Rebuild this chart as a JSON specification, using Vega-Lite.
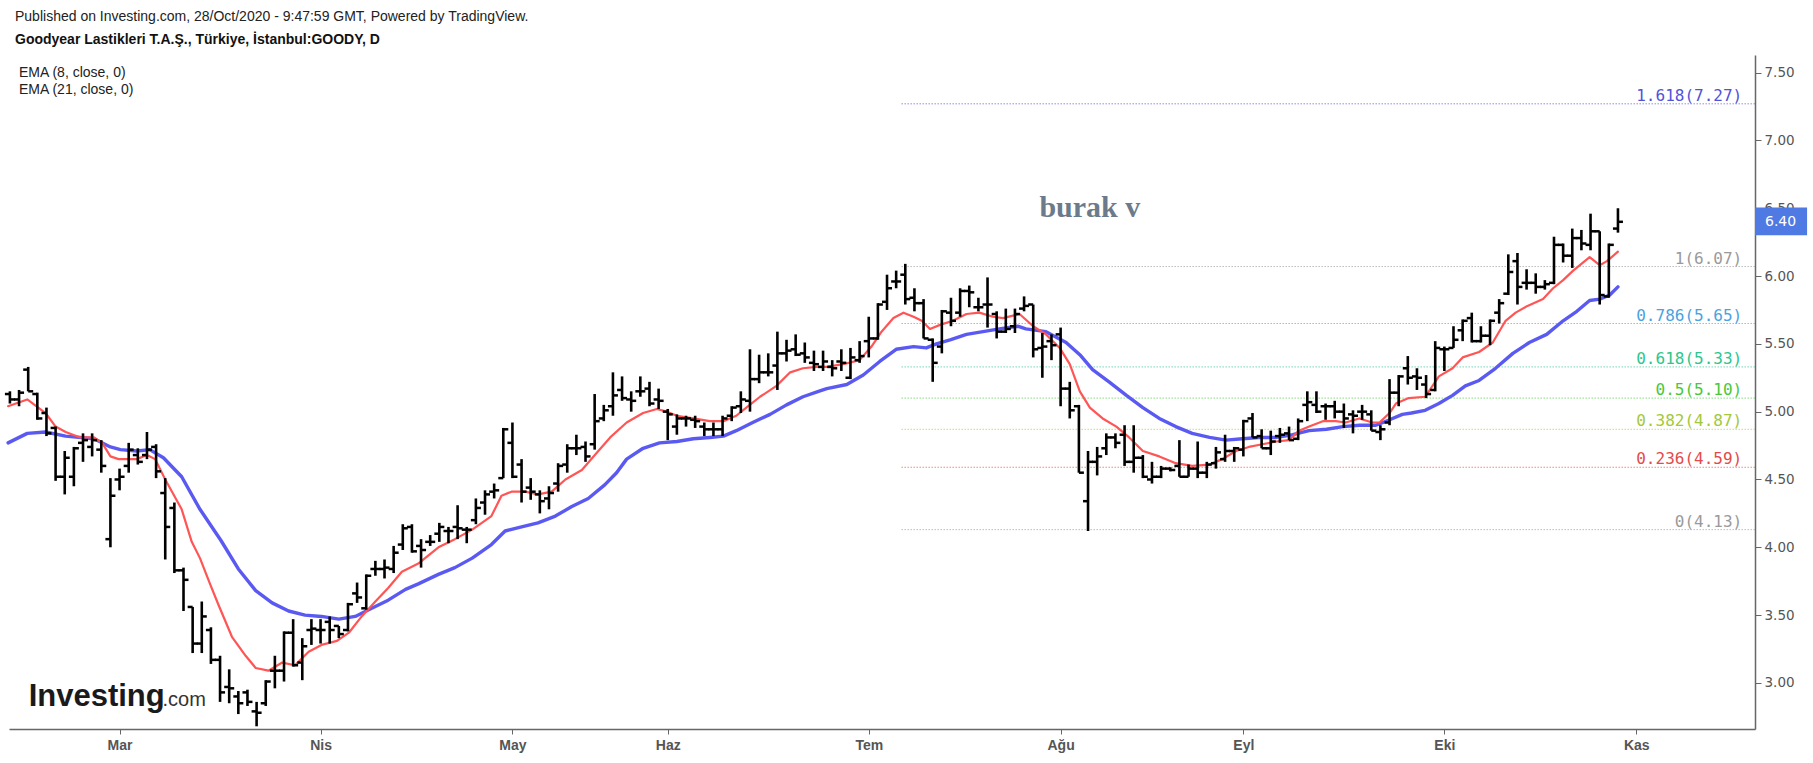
{
  "$schema": "https://vega.github.io/schema/vega-lite/v6.json",
  "width": 1746,
  "height": 674,
  "autosize": {"type": "none"},
  "padding": {"left": 9, "top": 55, "right": 58, "bottom": 34},
  "background": "#ffffff",
  "config": {
    "view": {"stroke": null},
    "font": "Liberation Sans"
  },
  "title": {
    "text": "Published on Investing.com, 28/Oct/2020 - 9:47:59 GMT, Powered by TradingView.",
    "subtitle": "Goodyear Lastikleri T.A.Ş., Türkiye, İstanbul:GOODY, D",
    "anchor": "start",
    "frame": "group",
    "dx": 6,
    "offset": 8,
    "font": "Liberation Sans",
    "fontSize": 14,
    "fontWeight": "normal",
    "color": "#222222",
    "subtitleFont": "Liberation Sans",
    "subtitleFontSize": 14,
    "subtitleFontWeight": "bold",
    "subtitleColor": "#111111",
    "subtitlePadding": 9
  },
  "datasets": {
    "bars": [
      {"i": -12, "o": 5.13, "h": 5.15, "l": 5.06, "c": 5.09},
      {"i": -11, "o": 5.09, "h": 5.16, "l": 5.04, "c": 5.14},
      {"i": -10, "o": 5.31, "h": 5.33, "l": 5.15, "c": 5.15},
      {"i": -9, "o": 5.13, "h": 5.14, "l": 4.94, "c": 4.95},
      {"i": -8, "o": 4.99, "h": 5.03, "l": 4.82, "c": 4.84},
      {"i": -7, "o": 4.88, "h": 4.89, "l": 4.49, "c": 4.52},
      {"i": -6, "o": 4.52, "h": 4.71, "l": 4.39, "c": 4.66},
      {"i": -5, "o": 4.52, "h": 4.74, "l": 4.45, "c": 4.73},
      {"i": -4, "o": 4.77, "h": 4.84, "l": 4.63, "c": 4.79},
      {"i": -3, "o": 4.74, "h": 4.84, "l": 4.67, "c": 4.79},
      {"i": -2, "o": 4.72, "h": 4.79, "l": 4.55, "c": 4.60},
      {"i": -1, "o": 4.06, "h": 4.51, "l": 4.00, "c": 4.38},
      {"i": 0, "o": 4.50, "h": 4.58, "l": 4.42, "c": 4.52},
      {"i": 1, "o": 4.60, "h": 4.77, "l": 4.55, "c": 4.72},
      {"i": 2, "o": 4.68, "h": 4.73, "l": 4.61, "c": 4.63},
      {"i": 3, "o": 4.68, "h": 4.85, "l": 4.65, "c": 4.72},
      {"i": 4, "o": 4.74, "h": 4.76, "l": 4.51, "c": 4.56},
      {"i": 5, "o": 4.40, "h": 4.51, "l": 3.91, "c": 4.15},
      {"i": 6, "o": 4.29, "h": 4.33, "l": 3.81, "c": 3.83},
      {"i": 7, "o": 3.83, "h": 3.85, "l": 3.53, "c": 3.76},
      {"i": 8, "o": 3.56, "h": 3.56, "l": 3.22, "c": 3.29},
      {"i": 9, "o": 3.29, "h": 3.60, "l": 3.22, "c": 3.49},
      {"i": 10, "o": 3.39, "h": 3.41, "l": 3.14, "c": 3.17},
      {"i": 11, "o": 3.17, "h": 3.20, "l": 2.86, "c": 2.93},
      {"i": 12, "o": 2.97, "h": 3.10, "l": 2.85, "c": 2.96},
      {"i": 13, "o": 2.90, "h": 2.94, "l": 2.77, "c": 2.85},
      {"i": 14, "o": 2.93, "h": 2.95, "l": 2.83, "c": 2.86},
      {"i": 15, "o": 2.79, "h": 2.86, "l": 2.68, "c": 2.78},
      {"i": 16, "o": 2.85, "h": 3.02, "l": 2.83, "c": 3.01},
      {"i": 17, "o": 3.09, "h": 3.20, "l": 2.96, "c": 3.09},
      {"i": 18, "o": 3.09, "h": 3.38, "l": 3.01, "c": 3.37},
      {"i": 19, "o": 3.37, "h": 3.47, "l": 3.12, "c": 3.13},
      {"i": 20, "o": 3.15, "h": 3.33, "l": 3.02, "c": 3.27},
      {"i": 21, "o": 3.39, "h": 3.47, "l": 3.28, "c": 3.40},
      {"i": 22, "o": 3.39, "h": 3.47, "l": 3.29, "c": 3.39},
      {"i": 23, "o": 3.45, "h": 3.49, "l": 3.29, "c": 3.39},
      {"i": 24, "o": 3.42, "h": 3.42, "l": 3.33, "c": 3.36},
      {"i": 25, "o": 3.39, "h": 3.59, "l": 3.38, "c": 3.58},
      {"i": 26, "o": 3.66, "h": 3.74, "l": 3.59, "c": 3.63},
      {"i": 27, "o": 3.55, "h": 3.80, "l": 3.54, "c": 3.79},
      {"i": 28, "o": 3.84, "h": 3.90, "l": 3.79, "c": 3.84},
      {"i": 29, "o": 3.84, "h": 3.91, "l": 3.77, "c": 3.85},
      {"i": 30, "o": 3.84, "h": 4.01, "l": 3.81, "c": 3.96},
      {"i": 31, "o": 4.02, "h": 4.17, "l": 3.98, "c": 4.14},
      {"i": 32, "o": 4.15, "h": 4.17, "l": 3.96, "c": 3.97},
      {"i": 33, "o": 4.01, "h": 4.06, "l": 3.85, "c": 3.98},
      {"i": 34, "o": 4.04, "h": 4.09, "l": 4.01, "c": 4.04},
      {"i": 35, "o": 4.10, "h": 4.18, "l": 4.04, "c": 4.15},
      {"i": 36, "o": 4.12, "h": 4.15, "l": 4.03, "c": 4.12},
      {"i": 37, "o": 4.15, "h": 4.31, "l": 4.06, "c": 4.14},
      {"i": 38, "o": 4.13, "h": 4.15, "l": 4.03, "c": 4.13},
      {"i": 39, "o": 4.20, "h": 4.36, "l": 4.17, "c": 4.29},
      {"i": 40, "o": 4.33, "h": 4.42, "l": 4.24, "c": 4.39},
      {"i": 41, "o": 4.41, "h": 4.47, "l": 4.36, "c": 4.42},
      {"i": 42, "o": 4.51, "h": 4.88, "l": 4.51, "c": 4.87},
      {"i": 43, "o": 4.77, "h": 4.92, "l": 4.51, "c": 4.52},
      {"i": 44, "o": 4.61, "h": 4.65, "l": 4.33, "c": 4.41},
      {"i": 45, "o": 4.44, "h": 4.51, "l": 4.35, "c": 4.41},
      {"i": 46, "o": 4.39, "h": 4.42, "l": 4.25, "c": 4.34},
      {"i": 47, "o": 4.36, "h": 4.45, "l": 4.28, "c": 4.40},
      {"i": 48, "o": 4.47, "h": 4.62, "l": 4.41, "c": 4.60},
      {"i": 49, "o": 4.61, "h": 4.76, "l": 4.55, "c": 4.73},
      {"i": 50, "o": 4.73, "h": 4.83, "l": 4.68, "c": 4.73},
      {"i": 51, "o": 4.74, "h": 4.78, "l": 4.63, "c": 4.67},
      {"i": 52, "o": 4.76, "h": 5.13, "l": 4.72, "c": 4.93},
      {"i": 53, "o": 4.95, "h": 5.05, "l": 4.93, "c": 5.01},
      {"i": 54, "o": 5.04, "h": 5.29, "l": 4.97, "c": 5.12},
      {"i": 55, "o": 5.16, "h": 5.26, "l": 5.08, "c": 5.10},
      {"i": 56, "o": 5.09, "h": 5.15, "l": 5.00, "c": 5.08},
      {"i": 57, "o": 5.15, "h": 5.26, "l": 5.11, "c": 5.15},
      {"i": 58, "o": 5.17, "h": 5.22, "l": 5.04, "c": 5.06},
      {"i": 59, "o": 5.09, "h": 5.17, "l": 5.02, "c": 5.08},
      {"i": 60, "o": 5.00, "h": 5.02, "l": 4.79, "c": 4.98},
      {"i": 61, "o": 4.89, "h": 4.98, "l": 4.83, "c": 4.95},
      {"i": 62, "o": 4.95, "h": 4.97, "l": 4.89, "c": 4.95},
      {"i": 63, "o": 4.94, "h": 4.97, "l": 4.88, "c": 4.93},
      {"i": 64, "o": 4.89, "h": 4.92, "l": 4.82, "c": 4.87},
      {"i": 65, "o": 4.87, "h": 4.92, "l": 4.82, "c": 4.87},
      {"i": 66, "o": 4.87, "h": 4.97, "l": 4.82, "c": 4.95},
      {"i": 67, "o": 4.97, "h": 5.04, "l": 4.93, "c": 5.03},
      {"i": 68, "o": 5.04, "h": 5.15, "l": 4.99, "c": 5.09},
      {"i": 69, "o": 5.08, "h": 5.46, "l": 5.00, "c": 5.24},
      {"i": 70, "o": 5.24, "h": 5.42, "l": 5.21, "c": 5.29},
      {"i": 71, "o": 5.29, "h": 5.43, "l": 5.26, "c": 5.29},
      {"i": 72, "o": 5.34, "h": 5.59, "l": 5.16, "c": 5.43},
      {"i": 73, "o": 5.43, "h": 5.53, "l": 5.37, "c": 5.45},
      {"i": 74, "o": 5.46, "h": 5.57, "l": 5.41, "c": 5.42},
      {"i": 75, "o": 5.43, "h": 5.51, "l": 5.36, "c": 5.40},
      {"i": 76, "o": 5.36, "h": 5.45, "l": 5.30, "c": 5.35},
      {"i": 77, "o": 5.33, "h": 5.45, "l": 5.30, "c": 5.37},
      {"i": 78, "o": 5.33, "h": 5.38, "l": 5.26, "c": 5.32},
      {"i": 79, "o": 5.37, "h": 5.46, "l": 5.30, "c": 5.36},
      {"i": 80, "o": 5.25, "h": 5.47, "l": 5.24, "c": 5.40},
      {"i": 81, "o": 5.38, "h": 5.52, "l": 5.36, "c": 5.41},
      {"i": 82, "o": 5.52, "h": 5.70, "l": 5.40, "c": 5.54},
      {"i": 83, "o": 5.54, "h": 5.80, "l": 5.53, "c": 5.79},
      {"i": 84, "o": 5.81, "h": 6.01, "l": 5.75, "c": 5.91},
      {"i": 85, "o": 5.96, "h": 6.04, "l": 5.91, "c": 5.96},
      {"i": 86, "o": 6.01, "h": 6.09, "l": 5.79, "c": 5.83},
      {"i": 87, "o": 5.84, "h": 5.91, "l": 5.74, "c": 5.80},
      {"i": 88, "o": 5.80, "h": 5.83, "l": 5.54, "c": 5.54},
      {"i": 89, "o": 5.53, "h": 5.54, "l": 5.22, "c": 5.36},
      {"i": 90, "o": 5.48, "h": 5.75, "l": 5.43, "c": 5.74},
      {"i": 91, "o": 5.73, "h": 5.84, "l": 5.63, "c": 5.67},
      {"i": 92, "o": 5.73, "h": 5.91, "l": 5.70, "c": 5.89},
      {"i": 93, "o": 5.89, "h": 5.93, "l": 5.77, "c": 5.88},
      {"i": 94, "o": 5.77, "h": 5.84, "l": 5.74, "c": 5.77},
      {"i": 95, "o": 5.79, "h": 5.99, "l": 5.62, "c": 5.79},
      {"i": 96, "o": 5.72, "h": 5.74, "l": 5.54, "c": 5.59},
      {"i": 97, "o": 5.59, "h": 5.76, "l": 5.58, "c": 5.61},
      {"i": 98, "o": 5.63, "h": 5.76, "l": 5.58, "c": 5.72},
      {"i": 99, "o": 5.76, "h": 5.85, "l": 5.74, "c": 5.78},
      {"i": 100, "o": 5.79, "h": 5.79, "l": 5.40, "c": 5.46},
      {"i": 101, "o": 5.47, "h": 5.58, "l": 5.25, "c": 5.48},
      {"i": 102, "o": 5.52, "h": 5.57, "l": 5.38, "c": 5.49},
      {"i": 103, "o": 5.57, "h": 5.62, "l": 5.04, "c": 5.17},
      {"i": 104, "o": 5.17, "h": 5.22, "l": 4.95, "c": 5.01},
      {"i": 105, "o": 5.04, "h": 5.05, "l": 4.55, "c": 4.55},
      {"i": 106, "o": 4.34, "h": 4.71, "l": 4.12, "c": 4.63},
      {"i": 107, "o": 4.63, "h": 4.74, "l": 4.53, "c": 4.67},
      {"i": 108, "o": 4.73, "h": 4.84, "l": 4.68, "c": 4.81},
      {"i": 109, "o": 4.81, "h": 4.84, "l": 4.73, "c": 4.77},
      {"i": 110, "o": 4.83, "h": 4.90, "l": 4.60, "c": 4.63},
      {"i": 111, "o": 4.63, "h": 4.90, "l": 4.55, "c": 4.66},
      {"i": 112, "o": 4.66, "h": 4.68, "l": 4.51, "c": 4.52},
      {"i": 113, "o": 4.50, "h": 4.63, "l": 4.47, "c": 4.52},
      {"i": 114, "o": 4.52, "h": 4.60, "l": 4.51, "c": 4.58},
      {"i": 115, "o": 4.58, "h": 4.59, "l": 4.56, "c": 4.57},
      {"i": 116, "o": 4.60, "h": 4.79, "l": 4.52, "c": 4.52},
      {"i": 117, "o": 4.52, "h": 4.61, "l": 4.52, "c": 4.58},
      {"i": 118, "o": 4.58, "h": 4.78, "l": 4.51, "c": 4.55},
      {"i": 119, "o": 4.55, "h": 4.63, "l": 4.51, "c": 4.61},
      {"i": 120, "o": 4.62, "h": 4.74, "l": 4.58, "c": 4.70},
      {"i": 121, "o": 4.65, "h": 4.83, "l": 4.63, "c": 4.71},
      {"i": 122, "o": 4.71, "h": 4.74, "l": 4.63, "c": 4.73},
      {"i": 123, "o": 4.72, "h": 4.94, "l": 4.67, "c": 4.93},
      {"i": 124, "o": 4.95, "h": 4.99, "l": 4.81, "c": 4.81},
      {"i": 125, "o": 4.82, "h": 4.87, "l": 4.73, "c": 4.73},
      {"i": 126, "o": 4.73, "h": 4.86, "l": 4.68, "c": 4.78},
      {"i": 127, "o": 4.82, "h": 4.88, "l": 4.77, "c": 4.83},
      {"i": 128, "o": 4.84, "h": 4.89, "l": 4.79, "c": 4.79},
      {"i": 129, "o": 4.80, "h": 4.95, "l": 4.79, "c": 4.93},
      {"i": 130, "o": 5.05, "h": 5.15, "l": 4.93, "c": 5.07},
      {"i": 131, "o": 5.05, "h": 5.15, "l": 4.99, "c": 5.00},
      {"i": 132, "o": 5.04, "h": 5.06, "l": 4.94, "c": 5.04},
      {"i": 133, "o": 5.04, "h": 5.08, "l": 4.95, "c": 5.00},
      {"i": 134, "o": 5.00, "h": 5.06, "l": 4.88, "c": 4.95},
      {"i": 135, "o": 4.98, "h": 5.01, "l": 4.84, "c": 4.97},
      {"i": 136, "o": 5.00, "h": 5.05, "l": 4.94, "c": 5.00},
      {"i": 137, "o": 4.98, "h": 5.01, "l": 4.86, "c": 4.86},
      {"i": 138, "o": 4.85, "h": 4.90, "l": 4.79, "c": 4.87},
      {"i": 139, "o": 4.92, "h": 5.24, "l": 4.90, "c": 5.14},
      {"i": 140, "o": 5.14, "h": 5.27, "l": 5.04, "c": 5.26},
      {"i": 141, "o": 5.32, "h": 5.41, "l": 5.20, "c": 5.25},
      {"i": 142, "o": 5.26, "h": 5.32, "l": 5.16, "c": 5.25},
      {"i": 143, "o": 5.20, "h": 5.27, "l": 5.10, "c": 5.13},
      {"i": 144, "o": 5.16, "h": 5.52, "l": 5.15, "c": 5.47},
      {"i": 145, "o": 5.46, "h": 5.48, "l": 5.30, "c": 5.46},
      {"i": 146, "o": 5.47, "h": 5.63, "l": 5.47, "c": 5.53},
      {"i": 147, "o": 5.60, "h": 5.68, "l": 5.52, "c": 5.67},
      {"i": 148, "o": 5.69, "h": 5.73, "l": 5.51, "c": 5.52},
      {"i": 149, "o": 5.52, "h": 5.63, "l": 5.51, "c": 5.56},
      {"i": 150, "o": 5.56, "h": 5.68, "l": 5.49, "c": 5.67},
      {"i": 151, "o": 5.73, "h": 5.83, "l": 5.65, "c": 5.80},
      {"i": 152, "o": 5.87, "h": 6.16, "l": 5.86, "c": 6.03},
      {"i": 153, "o": 6.11, "h": 6.17, "l": 5.79, "c": 5.92},
      {"i": 154, "o": 5.95, "h": 6.05, "l": 5.90, "c": 5.95},
      {"i": 155, "o": 5.95, "h": 6.02, "l": 5.87, "c": 5.92},
      {"i": 156, "o": 5.92, "h": 5.97, "l": 5.90, "c": 5.94},
      {"i": 157, "o": 5.95, "h": 6.29, "l": 5.94, "c": 6.23},
      {"i": 158, "o": 6.23, "h": 6.24, "l": 6.10, "c": 6.15},
      {"i": 159, "o": 6.15, "h": 6.35, "l": 6.06, "c": 6.28},
      {"i": 160, "o": 6.28, "h": 6.34, "l": 6.19, "c": 6.24},
      {"i": 161, "o": 6.23, "h": 6.46, "l": 6.19, "c": 6.33},
      {"i": 162, "o": 6.33, "h": 6.33, "l": 5.79, "c": 5.86},
      {"i": 163, "o": 5.85, "h": 6.24, "l": 5.84, "c": 6.23},
      {"i": 164, "o": 6.35, "h": 6.50, "l": 6.32, "c": 6.40}
    ],
    "ema": [
      {"s": "EMA (8, close, 0)", "i": -12.2, "v": 5.04},
      {"s": "EMA (8, close, 0)", "i": -10.1, "v": 5.09},
      {"s": "EMA (8, close, 0)", "i": -8.1, "v": 4.99},
      {"s": "EMA (8, close, 0)", "i": -7.0, "v": 4.89},
      {"s": "EMA (8, close, 0)", "i": -5.9, "v": 4.85},
      {"s": "EMA (8, close, 0)", "i": -4.3, "v": 4.81},
      {"s": "EMA (8, close, 0)", "i": -2.8, "v": 4.81},
      {"s": "EMA (8, close, 0)", "i": -1.9, "v": 4.77},
      {"s": "EMA (8, close, 0)", "i": -1.0, "v": 4.67},
      {"s": "EMA (8, close, 0)", "i": -0.1, "v": 4.65},
      {"s": "EMA (8, close, 0)", "i": 1.9, "v": 4.65},
      {"s": "EMA (8, close, 0)", "i": 3.0, "v": 4.68},
      {"s": "EMA (8, close, 0)", "i": 3.9, "v": 4.65},
      {"s": "EMA (8, close, 0)", "i": 5.0, "v": 4.50},
      {"s": "EMA (8, close, 0)", "i": 6.8, "v": 4.28},
      {"s": "EMA (8, close, 0)", "i": 7.9, "v": 4.04},
      {"s": "EMA (8, close, 0)", "i": 8.8, "v": 3.92},
      {"s": "EMA (8, close, 0)", "i": 9.9, "v": 3.73},
      {"s": "EMA (8, close, 0)", "i": 10.8, "v": 3.58},
      {"s": "EMA (8, close, 0)", "i": 12.3, "v": 3.34},
      {"s": "EMA (8, close, 0)", "i": 13.8, "v": 3.20},
      {"s": "EMA (8, close, 0)", "i": 14.9, "v": 3.11},
      {"s": "EMA (8, close, 0)", "i": 16.3, "v": 3.09},
      {"s": "EMA (8, close, 0)", "i": 17.8, "v": 3.15},
      {"s": "EMA (8, close, 0)", "i": 19.2, "v": 3.13},
      {"s": "EMA (8, close, 0)", "i": 20.7, "v": 3.23},
      {"s": "EMA (8, close, 0)", "i": 22.1, "v": 3.28},
      {"s": "EMA (8, close, 0)", "i": 23.8, "v": 3.31},
      {"s": "EMA (8, close, 0)", "i": 25.1, "v": 3.37},
      {"s": "EMA (8, close, 0)", "i": 26.5, "v": 3.49},
      {"s": "EMA (8, close, 0)", "i": 28.0, "v": 3.60},
      {"s": "EMA (8, close, 0)", "i": 29.4, "v": 3.70},
      {"s": "EMA (8, close, 0)", "i": 30.9, "v": 3.82},
      {"s": "EMA (8, close, 0)", "i": 32.7, "v": 3.88},
      {"s": "EMA (8, close, 0)", "i": 34.9, "v": 4.00},
      {"s": "EMA (8, close, 0)", "i": 36.7, "v": 4.06},
      {"s": "EMA (8, close, 0)", "i": 38.6, "v": 4.13},
      {"s": "EMA (8, close, 0)", "i": 40.7, "v": 4.23},
      {"s": "EMA (8, close, 0)", "i": 41.8, "v": 4.38},
      {"s": "EMA (8, close, 0)", "i": 42.9, "v": 4.41},
      {"s": "EMA (8, close, 0)", "i": 44.4, "v": 4.41},
      {"s": "EMA (8, close, 0)", "i": 45.8, "v": 4.39},
      {"s": "EMA (8, close, 0)", "i": 47.3, "v": 4.41},
      {"s": "EMA (8, close, 0)", "i": 48.8, "v": 4.50},
      {"s": "EMA (8, close, 0)", "i": 50.6, "v": 4.57},
      {"s": "EMA (8, close, 0)", "i": 52.4, "v": 4.71},
      {"s": "EMA (8, close, 0)", "i": 53.7, "v": 4.81},
      {"s": "EMA (8, close, 0)", "i": 55.5, "v": 4.92},
      {"s": "EMA (8, close, 0)", "i": 57.3, "v": 4.99},
      {"s": "EMA (8, close, 0)", "i": 58.8, "v": 5.02},
      {"s": "EMA (8, close, 0)", "i": 59.9, "v": 5.00},
      {"s": "EMA (8, close, 0)", "i": 61.0, "v": 4.97},
      {"s": "EMA (8, close, 0)", "i": 62.8, "v": 4.95},
      {"s": "EMA (8, close, 0)", "i": 64.6, "v": 4.93},
      {"s": "EMA (8, close, 0)", "i": 66.1, "v": 4.93},
      {"s": "EMA (8, close, 0)", "i": 67.5, "v": 4.97},
      {"s": "EMA (8, close, 0)", "i": 68.6, "v": 5.03},
      {"s": "EMA (8, close, 0)", "i": 70.1, "v": 5.11},
      {"s": "EMA (8, close, 0)", "i": 71.9, "v": 5.19},
      {"s": "EMA (8, close, 0)", "i": 73.4, "v": 5.29},
      {"s": "EMA (8, close, 0)", "i": 74.8, "v": 5.32},
      {"s": "EMA (8, close, 0)", "i": 76.3, "v": 5.33},
      {"s": "EMA (8, close, 0)", "i": 77.4, "v": 5.33},
      {"s": "EMA (8, close, 0)", "i": 79.2, "v": 5.35},
      {"s": "EMA (8, close, 0)", "i": 81.0, "v": 5.38},
      {"s": "EMA (8, close, 0)", "i": 82.3, "v": 5.48},
      {"s": "EMA (8, close, 0)", "i": 83.4, "v": 5.59},
      {"s": "EMA (8, close, 0)", "i": 84.7, "v": 5.69},
      {"s": "EMA (8, close, 0)", "i": 85.8, "v": 5.73},
      {"s": "EMA (8, close, 0)", "i": 86.9, "v": 5.70},
      {"s": "EMA (8, close, 0)", "i": 87.8, "v": 5.67},
      {"s": "EMA (8, close, 0)", "i": 88.7, "v": 5.61},
      {"s": "EMA (8, close, 0)", "i": 89.8, "v": 5.64},
      {"s": "EMA (8, close, 0)", "i": 91.2, "v": 5.67},
      {"s": "EMA (8, close, 0)", "i": 92.7, "v": 5.72},
      {"s": "EMA (8, close, 0)", "i": 94.1, "v": 5.73},
      {"s": "EMA (8, close, 0)", "i": 95.6, "v": 5.70},
      {"s": "EMA (8, close, 0)", "i": 96.7, "v": 5.69},
      {"s": "EMA (8, close, 0)", "i": 98.5, "v": 5.72},
      {"s": "EMA (8, close, 0)", "i": 100.0, "v": 5.63},
      {"s": "EMA (8, close, 0)", "i": 101.4, "v": 5.57},
      {"s": "EMA (8, close, 0)", "i": 102.9, "v": 5.47},
      {"s": "EMA (8, close, 0)", "i": 104.0, "v": 5.35},
      {"s": "EMA (8, close, 0)", "i": 105.1, "v": 5.15},
      {"s": "EMA (8, close, 0)", "i": 106.2, "v": 5.03},
      {"s": "EMA (8, close, 0)", "i": 107.6, "v": 4.95},
      {"s": "EMA (8, close, 0)", "i": 109.1, "v": 4.89},
      {"s": "EMA (8, close, 0)", "i": 110.5, "v": 4.81},
      {"s": "EMA (8, close, 0)", "i": 112.0, "v": 4.71},
      {"s": "EMA (8, close, 0)", "i": 113.8, "v": 4.67},
      {"s": "EMA (8, close, 0)", "i": 115.6, "v": 4.62},
      {"s": "EMA (8, close, 0)", "i": 117.4, "v": 4.60},
      {"s": "EMA (8, close, 0)", "i": 119.3, "v": 4.61},
      {"s": "EMA (8, close, 0)", "i": 120.7, "v": 4.65},
      {"s": "EMA (8, close, 0)", "i": 122.2, "v": 4.71},
      {"s": "EMA (8, close, 0)", "i": 123.6, "v": 4.74},
      {"s": "EMA (8, close, 0)", "i": 125.1, "v": 4.76},
      {"s": "EMA (8, close, 0)", "i": 126.6, "v": 4.78},
      {"s": "EMA (8, close, 0)", "i": 128.0, "v": 4.79},
      {"s": "EMA (8, close, 0)", "i": 129.1, "v": 4.86},
      {"s": "EMA (8, close, 0)", "i": 130.2, "v": 4.89},
      {"s": "EMA (8, close, 0)", "i": 131.7, "v": 4.93},
      {"s": "EMA (8, close, 0)", "i": 133.1, "v": 4.93},
      {"s": "EMA (8, close, 0)", "i": 134.2, "v": 4.92},
      {"s": "EMA (8, close, 0)", "i": 135.7, "v": 4.95},
      {"s": "EMA (8, close, 0)", "i": 137.1, "v": 4.92},
      {"s": "EMA (8, close, 0)", "i": 137.9, "v": 4.92},
      {"s": "EMA (8, close, 0)", "i": 139.0, "v": 4.99},
      {"s": "EMA (8, close, 0)", "i": 139.7, "v": 5.06},
      {"s": "EMA (8, close, 0)", "i": 141.1, "v": 5.10},
      {"s": "EMA (8, close, 0)", "i": 142.9, "v": 5.11},
      {"s": "EMA (8, close, 0)", "i": 144.4, "v": 5.26},
      {"s": "EMA (8, close, 0)", "i": 145.9, "v": 5.32},
      {"s": "EMA (8, close, 0)", "i": 147.0, "v": 5.40},
      {"s": "EMA (8, close, 0)", "i": 148.8, "v": 5.44},
      {"s": "EMA (8, close, 0)", "i": 150.3, "v": 5.51},
      {"s": "EMA (8, close, 0)", "i": 151.7, "v": 5.67},
      {"s": "EMA (8, close, 0)", "i": 152.8, "v": 5.73},
      {"s": "EMA (8, close, 0)", "i": 154.1, "v": 5.78},
      {"s": "EMA (8, close, 0)", "i": 155.8, "v": 5.83},
      {"s": "EMA (8, close, 0)", "i": 156.9, "v": 5.91},
      {"s": "EMA (8, close, 0)", "i": 158.0, "v": 5.97},
      {"s": "EMA (8, close, 0)", "i": 159.1, "v": 6.04},
      {"s": "EMA (8, close, 0)", "i": 160.9, "v": 6.14},
      {"s": "EMA (8, close, 0)", "i": 162.0, "v": 6.08},
      {"s": "EMA (8, close, 0)", "i": 162.8, "v": 6.11},
      {"s": "EMA (8, close, 0)", "i": 164.0, "v": 6.18},
      {"s": "EMA (21, close, 0)", "i": -12.2, "v": 4.77},
      {"s": "EMA (21, close, 0)", "i": -10.1, "v": 4.84},
      {"s": "EMA (21, close, 0)", "i": -8.1, "v": 4.85},
      {"s": "EMA (21, close, 0)", "i": -5.9, "v": 4.82},
      {"s": "EMA (21, close, 0)", "i": -2.8, "v": 4.80},
      {"s": "EMA (21, close, 0)", "i": -1.0, "v": 4.74},
      {"s": "EMA (21, close, 0)", "i": 0.1, "v": 4.72},
      {"s": "EMA (21, close, 0)", "i": 1.9, "v": 4.71},
      {"s": "EMA (21, close, 0)", "i": 3.3, "v": 4.72},
      {"s": "EMA (21, close, 0)", "i": 4.8, "v": 4.66},
      {"s": "EMA (21, close, 0)", "i": 6.8, "v": 4.52},
      {"s": "EMA (21, close, 0)", "i": 8.8, "v": 4.28},
      {"s": "EMA (21, close, 0)", "i": 11.1, "v": 4.05},
      {"s": "EMA (21, close, 0)", "i": 13.0, "v": 3.84},
      {"s": "EMA (21, close, 0)", "i": 14.9, "v": 3.68},
      {"s": "EMA (21, close, 0)", "i": 16.7, "v": 3.59},
      {"s": "EMA (21, close, 0)", "i": 18.5, "v": 3.53},
      {"s": "EMA (21, close, 0)", "i": 20.3, "v": 3.50},
      {"s": "EMA (21, close, 0)", "i": 22.1, "v": 3.49},
      {"s": "EMA (21, close, 0)", "i": 24.0, "v": 3.47},
      {"s": "EMA (21, close, 0)", "i": 25.8, "v": 3.49},
      {"s": "EMA (21, close, 0)", "i": 27.6, "v": 3.55},
      {"s": "EMA (21, close, 0)", "i": 29.4, "v": 3.61},
      {"s": "EMA (21, close, 0)", "i": 31.3, "v": 3.69},
      {"s": "EMA (21, close, 0)", "i": 32.7, "v": 3.73},
      {"s": "EMA (21, close, 0)", "i": 34.9, "v": 3.80},
      {"s": "EMA (21, close, 0)", "i": 36.7, "v": 3.85},
      {"s": "EMA (21, close, 0)", "i": 38.6, "v": 3.92},
      {"s": "EMA (21, close, 0)", "i": 40.7, "v": 4.02},
      {"s": "EMA (21, close, 0)", "i": 42.2, "v": 4.12},
      {"s": "EMA (21, close, 0)", "i": 44.0, "v": 4.15},
      {"s": "EMA (21, close, 0)", "i": 45.8, "v": 4.18},
      {"s": "EMA (21, close, 0)", "i": 47.7, "v": 4.23},
      {"s": "EMA (21, close, 0)", "i": 49.5, "v": 4.30},
      {"s": "EMA (21, close, 0)", "i": 51.3, "v": 4.36},
      {"s": "EMA (21, close, 0)", "i": 53.1, "v": 4.46},
      {"s": "EMA (21, close, 0)", "i": 54.4, "v": 4.55},
      {"s": "EMA (21, close, 0)", "i": 55.5, "v": 4.65},
      {"s": "EMA (21, close, 0)", "i": 57.3, "v": 4.73},
      {"s": "EMA (21, close, 0)", "i": 59.1, "v": 4.77},
      {"s": "EMA (21, close, 0)", "i": 61.0, "v": 4.78},
      {"s": "EMA (21, close, 0)", "i": 62.8, "v": 4.80},
      {"s": "EMA (21, close, 0)", "i": 64.6, "v": 4.81},
      {"s": "EMA (21, close, 0)", "i": 66.1, "v": 4.82},
      {"s": "EMA (21, close, 0)", "i": 67.5, "v": 4.86},
      {"s": "EMA (21, close, 0)", "i": 69.3, "v": 4.92},
      {"s": "EMA (21, close, 0)", "i": 71.2, "v": 4.98},
      {"s": "EMA (21, close, 0)", "i": 73.0, "v": 5.05},
      {"s": "EMA (21, close, 0)", "i": 74.8, "v": 5.11},
      {"s": "EMA (21, close, 0)", "i": 76.5, "v": 5.15},
      {"s": "EMA (21, close, 0)", "i": 77.4, "v": 5.17},
      {"s": "EMA (21, close, 0)", "i": 79.6, "v": 5.20},
      {"s": "EMA (21, close, 0)", "i": 81.4, "v": 5.27},
      {"s": "EMA (21, close, 0)", "i": 83.2, "v": 5.37},
      {"s": "EMA (21, close, 0)", "i": 85.0, "v": 5.46},
      {"s": "EMA (21, close, 0)", "i": 86.9, "v": 5.48},
      {"s": "EMA (21, close, 0)", "i": 88.3, "v": 5.47},
      {"s": "EMA (21, close, 0)", "i": 89.4, "v": 5.50},
      {"s": "EMA (21, close, 0)", "i": 90.9, "v": 5.53},
      {"s": "EMA (21, close, 0)", "i": 92.7, "v": 5.57},
      {"s": "EMA (21, close, 0)", "i": 94.5, "v": 5.59},
      {"s": "EMA (21, close, 0)", "i": 96.3, "v": 5.61},
      {"s": "EMA (21, close, 0)", "i": 98.3, "v": 5.63},
      {"s": "EMA (21, close, 0)", "i": 99.2, "v": 5.61},
      {"s": "EMA (21, close, 0)", "i": 101.4, "v": 5.59},
      {"s": "EMA (21, close, 0)", "i": 103.6, "v": 5.51},
      {"s": "EMA (21, close, 0)", "i": 105.1, "v": 5.42},
      {"s": "EMA (21, close, 0)", "i": 106.5, "v": 5.31},
      {"s": "EMA (21, close, 0)", "i": 108.3, "v": 5.22},
      {"s": "EMA (21, close, 0)", "i": 110.2, "v": 5.12},
      {"s": "EMA (21, close, 0)", "i": 112.0, "v": 5.03},
      {"s": "EMA (21, close, 0)", "i": 113.8, "v": 4.95},
      {"s": "EMA (21, close, 0)", "i": 115.6, "v": 4.89},
      {"s": "EMA (21, close, 0)", "i": 117.4, "v": 4.84},
      {"s": "EMA (21, close, 0)", "i": 119.3, "v": 4.81},
      {"s": "EMA (21, close, 0)", "i": 121.1, "v": 4.79},
      {"s": "EMA (21, close, 0)", "i": 122.9, "v": 4.80},
      {"s": "EMA (21, close, 0)", "i": 124.7, "v": 4.81},
      {"s": "EMA (21, close, 0)", "i": 126.6, "v": 4.81},
      {"s": "EMA (21, close, 0)", "i": 128.4, "v": 4.83},
      {"s": "EMA (21, close, 0)", "i": 130.2, "v": 4.86},
      {"s": "EMA (21, close, 0)", "i": 132.1, "v": 4.87},
      {"s": "EMA (21, close, 0)", "i": 133.9, "v": 4.89},
      {"s": "EMA (21, close, 0)", "i": 135.7, "v": 4.90},
      {"s": "EMA (21, close, 0)", "i": 137.5, "v": 4.90},
      {"s": "EMA (21, close, 0)", "i": 139.0, "v": 4.94},
      {"s": "EMA (21, close, 0)", "i": 140.4, "v": 4.98},
      {"s": "EMA (21, close, 0)", "i": 141.4, "v": 4.99},
      {"s": "EMA (21, close, 0)", "i": 142.9, "v": 5.01},
      {"s": "EMA (21, close, 0)", "i": 144.4, "v": 5.06},
      {"s": "EMA (21, close, 0)", "i": 145.9, "v": 5.12},
      {"s": "EMA (21, close, 0)", "i": 147.3, "v": 5.19},
      {"s": "EMA (21, close, 0)", "i": 148.8, "v": 5.23},
      {"s": "EMA (21, close, 0)", "i": 150.6, "v": 5.32},
      {"s": "EMA (21, close, 0)", "i": 152.5, "v": 5.43},
      {"s": "EMA (21, close, 0)", "i": 154.3, "v": 5.51},
      {"s": "EMA (21, close, 0)", "i": 156.2, "v": 5.57},
      {"s": "EMA (21, close, 0)", "i": 158.0, "v": 5.67},
      {"s": "EMA (21, close, 0)", "i": 159.5, "v": 5.74},
      {"s": "EMA (21, close, 0)", "i": 160.9, "v": 5.82},
      {"s": "EMA (21, close, 0)", "i": 162.0, "v": 5.83},
      {"s": "EMA (21, close, 0)", "i": 163.1, "v": 5.86},
      {"s": "EMA (21, close, 0)", "i": 164.0, "v": 5.92}
    ],
    "fib": [
      {"ratio": "1.618", "v": 7.27, "label": "1.618(7.27)"},
      {"ratio": "1", "v": 6.07, "label": "1(6.07)"},
      {"ratio": "0.786", "v": 5.65, "label": "0.786(5.65)"},
      {"ratio": "0.618", "v": 5.33, "label": "0.618(5.33)"},
      {"ratio": "0.5", "v": 5.10, "label": "0.5(5.10)"},
      {"ratio": "0.382", "v": 4.87, "label": "0.382(4.87)"},
      {"ratio": "0.236", "v": 4.59, "label": "0.236(4.59)"},
      {"ratio": "0", "v": 4.13, "label": "0(4.13)"}
    ],
    "last": [{"price": 6.40, "label": "6.40"}],
    "notes": [{"text": "burak v"}]
  },
  "encoding": {
    "x": {
      "type": "quantitative",
      "scale": {"domain": [-12.1, 179], "nice": false, "zero": false},
      "axis": {
        "orient": "bottom",
        "title": null,
        "grid": false,
        "values": [0, 22, 43, 60, 82, 103, 123, 145, 166],
        "labelExpr": "datum.value == 0 ? 'Mar' : datum.value == 22 ? 'Nis' : datum.value == 43 ? 'May' : datum.value == 60 ? 'Haz' : datum.value == 82 ? 'Tem' : datum.value == 103 ? 'Ağu' : datum.value == 123 ? 'Eyl' : datum.value == 145 ? 'Eki' : 'Kas'",
        "domainColor": "#666666",
        "domainWidth": 1.5,
        "tickColor": "#666666",
        "tickSize": 5,
        "labelFont": "Liberation Sans",
        "labelFontWeight": "bold",
        "labelFontSize": 14,
        "labelColor": "#555555",
        "labelPadding": 4
      }
    },
    "y": {
      "type": "quantitative",
      "scale": {"domain": [2.66, 7.63], "nice": false, "zero": false},
      "axis": {
        "orient": "right",
        "title": null,
        "grid": false,
        "values": [3, 3.5, 4, 4.5, 5, 5.5, 6, 6.5, 7, 7.5],
        "format": ".2f",
        "domainColor": "#666666",
        "domainWidth": 1.5,
        "tickColor": "#666666",
        "tickSize": 6,
        "labelFont": "DejaVu Sans",
        "labelFontSize": 13.5,
        "labelColor": "#555555",
        "labelPadding": 3
      }
    }
  },
  "layer": [
    {
      "data": {"name": "fib"},
      "mark": {"type": "rule", "strokeDash": [1, 2], "strokeWidth": 1},
      "encoding": {
        "x": {"datum": 85.6},
        "x2": {"datum": 179},
        "y": {"field": "v", "type": "quantitative"},
        "color": {
          "field": "ratio",
          "type": "nominal",
          "legend": null,
          "scale": {
            "domain": ["1.618", "1", "0.786", "0.618", "0.5", "0.382", "0.236", "0"],
            "range": ["#5252d9", "#9a9a9a", "#4aa3df", "#2ec68e", "#49c83a", "#a2c93a", "#e34b4b", "#9a9a9a"]
          }
        }
      }
    },
    {
      "data": {"name": "fib"},
      "mark": {"type": "text", "align": "right", "baseline": "alphabetic", "dy": -3, "font": "DejaVu Sans Mono", "fontSize": 16},
      "encoding": {
        "x": {"datum": 177.6},
        "y": {"field": "v", "type": "quantitative"},
        "text": {"field": "label"},
        "color": {"field": "ratio", "type": "nominal", "legend": null}
      }
    },
    {
      "data": {"name": "ema"},
      "transform": [{"filter": "datum.s == 'EMA (21, close, 0)'"}],
      "mark": {"type": "line", "strokeWidth": 3.4, "strokeJoin": "round", "strokeCap": "round"},
      "encoding": {
        "x": {"field": "i", "type": "quantitative"},
        "y": {"field": "v", "type": "quantitative"},
        "stroke": {
          "field": "s",
          "type": "nominal",
          "scale": {"domain": ["EMA (8, close, 0)", "EMA (21, close, 0)"], "range": ["#ff5555", "#5a5af2"]},
          "legend": {
            "title": null,
            "orient": "none",
            "legendX": -4,
            "legendY": 11,
            "symbolSize": 0,
            "symbolOpacity": 0,
            "symbolStrokeWidth": 0,
            "symbolType": "circle",
            "labelOffset": 0,
            "labelFont": "Liberation Sans",
            "labelFontSize": 14,
            "labelColor": "#222222",
            "rowPadding": 3,
            "padding": 0
          }
        }
      }
    },
    {
      "data": {"name": "ema"},
      "transform": [{"filter": "datum.s == 'EMA (8, close, 0)'"}],
      "mark": {"type": "line", "strokeWidth": 2.2, "strokeJoin": "round", "strokeCap": "round"},
      "encoding": {
        "x": {"field": "i", "type": "quantitative"},
        "y": {"field": "v", "type": "quantitative"},
        "stroke": {"field": "s", "type": "nominal"}
      }
    },
    {
      "data": {"name": "bars"},
      "mark": {"type": "rule", "color": "#000000", "strokeWidth": 2.6},
      "encoding": {
        "x": {"field": "i", "type": "quantitative"},
        "y": {"field": "l", "type": "quantitative"},
        "y2": {"field": "h"}
      }
    },
    {
      "data": {"name": "bars"},
      "mark": {"type": "tick", "orient": "horizontal", "color": "#000000", "size": 5, "thickness": 2.5, "xOffset": -2.5, "opacity": 1},
      "encoding": {
        "x": {"field": "i", "type": "quantitative"},
        "y": {"field": "o", "type": "quantitative"}
      }
    },
    {
      "data": {"name": "bars"},
      "mark": {"type": "tick", "orient": "horizontal", "color": "#000000", "size": 5, "thickness": 2.5, "xOffset": 2.5, "opacity": 1},
      "encoding": {
        "x": {"field": "i", "type": "quantitative"},
        "y": {"field": "c", "type": "quantitative"}
      }
    },
    {
      "data": {"name": "notes"},
      "mark": {"type": "text", "font": "Liberation Serif", "fontWeight": "bold", "fontSize": 30, "color": "#6b7b8c", "align": "center", "baseline": "middle"},
      "encoding": {
        "x": {"datum": 106.2},
        "y": {"datum": 6.5},
        "text": {"field": "text"}
      }
    },
    {
      "data": {"values": [{"t": "Investing"}]},
      "mark": {"type": "text", "font": "Liberation Sans", "fontWeight": "bold", "fontSize": 31, "color": "#1a1a1a", "align": "left", "baseline": "alphabetic"},
      "encoding": {
        "x": {"datum": -9.95},
        "y": {"datum": 2.83},
        "text": {"field": "t"}
      }
    },
    {
      "data": {"values": [{"t": ".com"}]},
      "mark": {"type": "text", "font": "Liberation Sans", "fontSize": 20, "color": "#333333", "align": "left", "baseline": "alphabetic"},
      "encoding": {
        "x": {"datum": 4.7},
        "y": {"datum": 2.83},
        "text": {"field": "t"}
      }
    },
    {
      "data": {"name": "last"},
      "mark": {"type": "rect", "color": "#4f79e3"},
      "encoding": {
        "x": {"datum": 179},
        "x2": {"datum": 184.7},
        "y": {"datum": 6.3},
        "y2": {"datum": 6.505}
      }
    },
    {
      "data": {"name": "last"},
      "mark": {"type": "text", "font": "DejaVu Sans", "fontSize": 14, "color": "#ffffff", "align": "center", "baseline": "middle"},
      "encoding": {
        "x": {"datum": 181.8},
        "y": {"field": "price", "type": "quantitative"},
        "text": {"field": "label"}
      }
    }
  ]
}
